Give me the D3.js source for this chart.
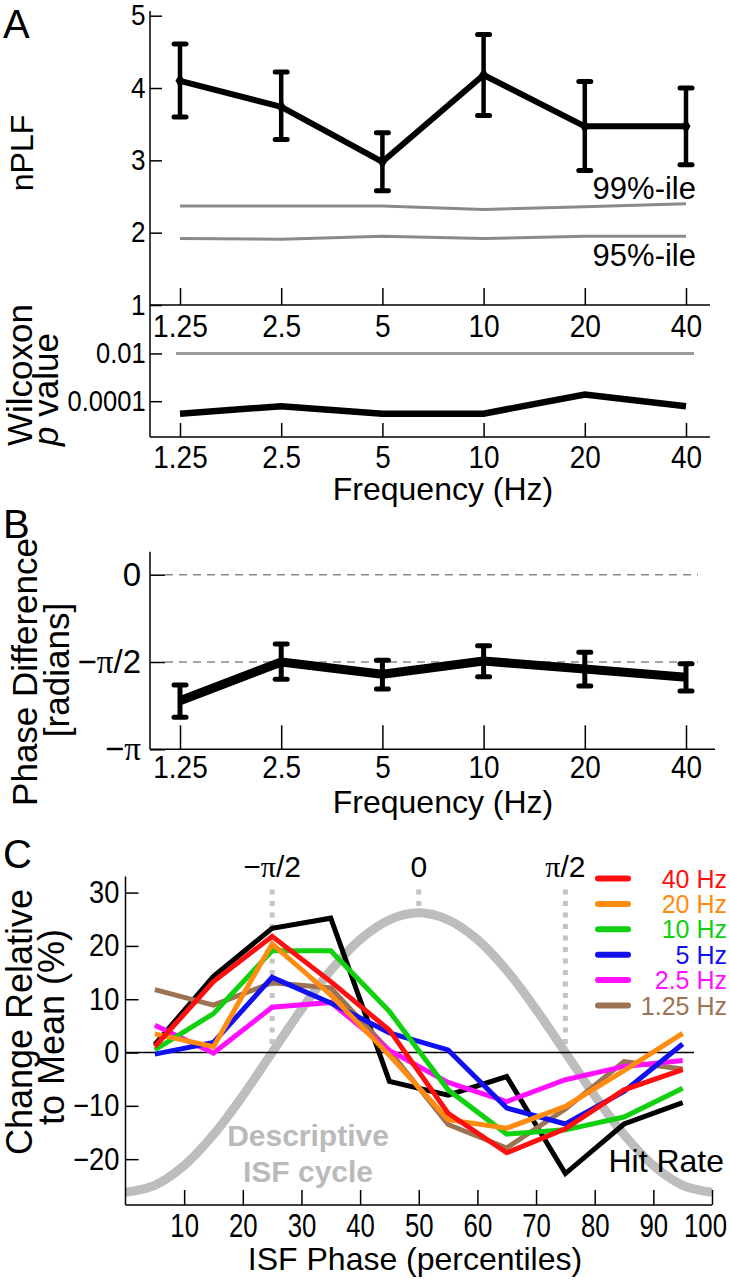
<!DOCTYPE html>
<html>
<head>
<meta charset="utf-8">
<script src="https://cdn.jsdelivr.net/npm/d3@7"></script>
<style>
    html, body { margin: 0; padding: 0; background: #ffffff; }
    svg text { font-family: "Liberation Sans", Arial, sans-serif; fill: #000; }
</style>
</head>
<body>
<div id="figure"></div>
<script>
// ---- data ----
const freqLabels = ['1.25', '2.5', '5', '10', '20', '40'];

// A: nPLF with error bars and shuffle percentiles
const nplfMean  = [4.10, 3.74, 2.98, 4.18, 3.47, 3.47];
const nplfUpper = [4.61, 4.22, 3.38, 4.74, 4.09, 4.00];
const nplfLower = [3.60, 3.29, 2.58, 3.62, 2.86, 2.94];
const pct99 = [2.37, 2.37, 2.37, 2.32, 2.36, 2.40];
const pct95 = [1.92, 1.91, 1.95, 1.92, 1.95, 1.95];
const nplfTicks = [1, 2, 3, 4, 5];

// A (lower): Wilcoxon p values
const pValues = [3.0e-5, 6.2e-5, 3.0e-5, 3.0e-5, 1.9e-4, 6.2e-5];
const pThreshold = 0.01;
const pTicks = [0.01, 0.0001];
const pTickLabels = ['0.01', '0.0001'];

// B: phase difference (radians)
const phaseMean  = [-2.267, -1.571, -1.792, -1.554, -1.696, -1.847];
const phaseUpper = [-1.984, -1.247, -1.541, -1.277, -1.396, -1.601];
const phaseLower = [-2.567, -1.882, -2.056, -1.835, -2.003, -2.092];
const phaseTicks = [0, -Math.PI / 2, -Math.PI];
const phaseTickLabels = ['0', '−π/2', '−π'];

// C: change relative to mean by ISF phase bin
const phaseBins = [5, 15, 25, 35, 45, 55, 65, 75, 85, 95];
const hitRate = [1.5, 14.3, 23.3, 25.2, -5.4, -8.0, -4.5, -22.7, -13.4, -9.4];
const hz40  = [1.1, 13.3, 21.8, 13.3, 4.2, -11.4, -18.8, -14.3, -7.0, -3.2];
const hz20  = [3.5, 1.1, 20.4, 10.8, -0.5, -12.6, -14.2, -10.1, -3.4, 3.6];
const hz10  = [0.5, 7.3, 19.1, 19.1, 7.7, -7.0, -15.3, -14.5, -12.1, -6.7];
const hz5   = [-0.3, 1.9, 14.1, 9.3, 3.7, 0.5, -10.4, -13.4, -7.3, 1.6];
const hz2p5 = [5.1, -0.1, 8.5, 9.4, 0.4, -5.6, -9.2, -5.1, -2.6, -1.5];
const hz1p25 = [11.8, 8.9, 13.1, 12.1, 0.3, -13.5, -17.9, -10.6, -1.7, -3.1];
const seriesNames  = ['40 Hz', '20 Hz', '10 Hz', '5 Hz', '2.5 Hz', '1.25 Hz'];
const seriesColors = ['#ff1010', '#ff8c10', '#10d010', '#1010f0', '#ff10ff', '#9c7353'];
const seriesValues = [hz40, hz20, hz10, hz5, hz2p5, hz1p25];

// descriptive ISF cycle (grey curve)
const cycleX = [0, 5, 10, 15, 20, 25, 30, 35, 40, 45, 50, 55, 60, 65, 70, 75, 80, 85, 90, 95, 100];
const cycleY = [-26.2, -24.9, -21.2, -15.4, -8.1, 0, 8.1, 15.4, 21.2, 24.9, 26.2,
                24.9, 21.2, 15.4, 8.1, 0, -8.1, -15.4, -21.2, -24.9, -26.2];
const cycleMarks = [25, 50, 75];
const cycleMarkLabels = ['−π/2', '0', 'π/2'];
const cTicksX = [10, 20, 30, 40, 50, 60, 70, 80, 90, 100];
const cTicksY = [-20, -10, 0, 10, 20, 30];

const FONT = '"Liberation Sans", Arial, sans-serif';

const svg = d3.select('#figure')
    .append('svg')
    .attr('width', 730)
    .attr('height', 1280);

// write labels with a serif pi, like the original
function piText(textSel, label) {
    textSel.text(null);
    label.split(/(π)/).filter(s => s.length).forEach(part => {
        textSel.append('tspan')
            .attr('font-family', part === 'π' ? '"Liberation Serif", "Times New Roman", serif' : null)
            .text(part);
    });
}

function styleAxis(g, size, squeeze) {
    g.attr('font-family', FONT).attr('font-size', size);
    g.select('.domain').remove();
    g.selectAll('.tick line').attr('stroke', '#000').attr('stroke-width', 1.5);
    g.selectAll('.tick text').attr('fill', '#000');
    // the original uses a narrower face for tick numbers
    if (squeeze) g.selectAll('.tick text').attr('transform', `scale(${squeeze},1)`);
}

function frameLine(x1, y1, x2, y2) {
    svg.append('line')
        .attr('x1', x1).attr('y1', y1)
        .attr('x2', x2).attr('y2', y2)
        .attr('stroke', '#000')
        .attr('stroke-width', 1.5);
}

function errorBars(xs, ys, upper, lower, capW, barW) {
    const g = svg.append('g');
    upper.forEach((u, i) => {
        const x = xs(freqLabels[i]);
        g.append('line')
            .attr('x1', x).attr('x2', x)
            .attr('y1', ys(u)).attr('y2', ys(lower[i]))
            .attr('stroke', '#000').attr('stroke-width', barW);
        [u, lower[i]].forEach(v => {
            g.append('line')
                .attr('x1', x - capW / 2).attr('x2', x + capW / 2)
                .attr('y1', ys(v)).attr('y2', ys(v))
                .attr('stroke', '#000').attr('stroke-width', 5)
                .attr('stroke-linecap', 'round');
        });
    });
}

function panelLetter(text, y) {
    svg.append('text').attr('x', 3).attr('y', y)
        .attr('font-size', 40).text(text);
}

// ================= Panel A =================
const xFreq = d3.scalePoint().domain(freqLabels).range([180, 686]);
const yA = d3.scaleLinear().domain([1, 5]).range([305, 15.7]);

panelLetter('A', 38);

frameLine(150, 11, 150, 437);
frameLine(150, 305, 710, 305);
frameLine(150, 437, 710, 437);

svg.append('g')
    .attr('transform', 'translate(150,0)')
    .call(d3.axisLeft(yA).tickValues(nplfTicks).tickFormat(d3.format('d'))
        .tickSizeInner(-12).tickSizeOuter(0).tickPadding(5))
    .call(g => styleAxis(g, 29, 0.9));

svg.append('g')
    .attr('transform', 'translate(0,305)')
    .call(d3.axisBottom(xFreq).tickSizeInner(-17).tickSizeOuter(0).tickPadding(9))
    .call(g => styleAxis(g, 32, 0.88));

const lineA = d3.line()
    .x((d, i) => xFreq(freqLabels[i]))
    .y(d => yA(d));

[pct99, pct95].forEach(arr => {
    svg.append('path')
        .datum(arr)
        .attr('d', lineA)
        .attr('fill', 'none')
        .attr('stroke', '#8a8a8a')
        .attr('stroke-width', 3);
});

svg.append('text').attr('x', 696).attr('y', 199)
    .attr('text-anchor', 'end').attr('font-size', 31).text('99%-ile');
svg.append('text').attr('x', 696).attr('y', 266)
    .attr('text-anchor', 'end').attr('font-size', 31).text('95%-ile');

errorBars(xFreq, yA, nplfUpper, nplfLower, 12, 4.5);

svg.append('path')
    .datum(nplfMean)
    .attr('d', lineA)
    .attr('fill', 'none')
    .attr('stroke', '#000')
    .attr('stroke-width', 6)
    .attr('stroke-linejoin', 'round');

svg.append('g')
    .selectAll('path')
    .data(nplfMean)
    .enter()
    .append('path')
    .attr('d', d3.symbol().type(d3.symbolDiamond).size(70))
    .attr('transform', (d, i) => `translate(${xFreq(freqLabels[i])},${yA(d)})`)
    .attr('fill', '#000');

svg.append('text')
    .attr('transform', 'translate(33,153) rotate(-90)')
    .attr('text-anchor', 'middle')
    .attr('font-size', 32)
    .text('nPLF');

// ---- p values ----
const yP = d3.scaleLog().domain([Math.pow(10, -5.5), 1.07]).range([437, 305]);

svg.append('g')
    .attr('transform', 'translate(150,0)')
    .call(d3.axisLeft(yP).tickValues(pTicks).tickFormat((d, i) => pTickLabels[i])
        .tickSizeInner(-12).tickSizeOuter(0).tickPadding(5))
    .call(g => styleAxis(g, 29, 0.88));

svg.append('g')
    .attr('transform', 'translate(0,437)')
    .call(d3.axisBottom(xFreq).tickSizeInner(-14).tickSizeOuter(0).tickPadding(9))
    .call(g => styleAxis(g, 31, 0.9));

svg.append('line')
    .attr('x1', xFreq(freqLabels[0]) - 4)
    .attr('x2', xFreq(freqLabels[freqLabels.length - 1]) + 8)
    .attr('y1', yP(pThreshold)).attr('y2', yP(pThreshold))
    .attr('stroke', '#999').attr('stroke-width', 3);

svg.append('path')
    .datum(pValues)
    .attr('d', d3.line().x((d, i) => xFreq(freqLabels[i])).y(d => yP(d)))
    .attr('fill', 'none')
    .attr('stroke', '#000')
    .attr('stroke-width', 6.5);

svg.append('text')
    .attr('transform', 'translate(32,446) rotate(-90)')
    .attr('font-size', 35)
    .text('Wilcoxon');
const pv = svg.append('text')
    .attr('transform', 'translate(58,446) rotate(-90)')
    .attr('font-size', 35);
pv.append('tspan').attr('font-style', 'italic').text('p');
pv.append('tspan').text(' value');

svg.append('text').attr('x', 443).attr('y', 500)
    .attr('text-anchor', 'middle').attr('font-size', 32)
    .text('Frequency (Hz)');

// ================= Panel B =================
const yB = d3.scaleLinear().domain([-Math.PI, 0.414]).range([749.3, 551.7]);

panelLetter('B', 538);

frameLine(150, 551.7, 150, 749.3);
frameLine(150, 749.3, 715, 749.3);

svg.append('g')
    .attr('transform', 'translate(150,0)')
    .call(d3.axisLeft(yB).tickValues(phaseTicks).tickFormat((d, i) => phaseTickLabels[i])
        .tickSizeInner(-15).tickSizeOuter(0).tickPadding(9))
    .call(g => styleAxis(g, 33))
    .call(g => g.selectAll('.tick text').each(function (d, i) {
        piText(d3.select(this), phaseTickLabels[i]);
    }));

svg.append('g')
    .attr('transform', 'translate(0,749.3)')
    .call(d3.axisBottom(xFreq).tickSizeInner(-24).tickSizeOuter(0).tickPadding(7))
    .call(g => styleAxis(g, 31, 0.9));

phaseTicks.slice(0, 2).forEach(v => {
    svg.append('line')
        .attr('x1', 165).attr('x2', 698)
        .attr('y1', yB(v)).attr('y2', yB(v))
        .attr('stroke', '#8a8a8a')
        .attr('stroke-width', 1.5)
        .attr('stroke-dasharray', '8,6');
});

errorBars(xFreq, yB, phaseUpper, phaseLower, 12, 5);

svg.append('path')
    .datum(phaseMean)
    .attr('d', d3.line().x((d, i) => xFreq(freqLabels[i])).y(d => yB(d)))
    .attr('fill', 'none')
    .attr('stroke', '#000')
    .attr('stroke-width', 9)
    .attr('stroke-linejoin', 'round');

svg.append('text')
    .attr('transform', 'translate(37,672) rotate(-90)')
    .attr('text-anchor', 'middle').attr('font-size', 35)
    .text('Phase Difference');
svg.append('text')
    .attr('transform', 'translate(69,670) rotate(-90)')
    .attr('text-anchor', 'middle').attr('font-size', 35)
    .text('[radians]');

svg.append('text').attr('x', 443).attr('y', 813)
    .attr('text-anchor', 'middle').attr('font-size', 32)
    .text('Frequency (Hz)');

// ================= Panel C =================
const xC = d3.scaleLinear().domain([0, 100]).range([125.5, 712]);
const yC = d3.scaleLinear().domain([-28.6, 33]).range([1205, 876.6]);

panelLetter('C', 868);

// dotted phase markers, stop at the grey cycle
cycleMarks.forEach((m, i) => {
    svg.append('line')
        .attr('x1', xC(m)).attr('x2', xC(m))
        .attr('y1', yC(30.6))
        .attr('y2', yC(cycleY[cycleX.indexOf(m)]))
        .attr('stroke', '#c4c4c4')
        .attr('stroke-width', 5)
        .attr('stroke-dasharray', '5,6.5');
    const t = svg.append('text')
        .attr('x', xC(m)).attr('y', 877)
        .attr('text-anchor', 'middle')
        .attr('font-size', 30);
    piText(t, cycleMarkLabels[i]);
});

svg.append('path')
    .datum(cycleX.map((x, i) => [x, cycleY[i]]))
    .attr('d', d3.line().x(d => xC(d[0])).y(d => yC(d[1])).curve(d3.curveCatmullRom))
    .attr('fill', 'none')
    .attr('stroke', '#bdbdbd')
    .attr('stroke-width', 9);

svg.append('text').attr('x', 308).attr('y', 1146)
    .attr('text-anchor', 'middle').attr('font-size', 30).attr('font-weight', 'bold')
    .style('fill', '#bababa').text('Descriptive');
svg.append('text').attr('x', 308).attr('y', 1182)
    .attr('text-anchor', 'middle').attr('font-size', 30).attr('font-weight', 'bold')
    .style('fill', '#bababa').text('ISF cycle');

frameLine(125.5, 876.6, 125.5, 1205);
frameLine(125.5, 1205, 712, 1205);

svg.append('line')
    .attr('x1', xC(0)).attr('x2', 694)
    .attr('y1', yC(0)).attr('y2', yC(0))
    .attr('stroke', '#000')
    .attr('stroke-width', 1.5);

svg.append('g')
    .attr('transform', 'translate(125.5,0)')
    .call(d3.axisLeft(yC).tickValues(cTicksY).tickSizeInner(-13).tickSizeOuter(0).tickPadding(7))
    .call(g => styleAxis(g, 31, 0.88));

svg.append('g')
    .attr('transform', 'translate(0,1205)')
    .call(d3.axisBottom(xC).tickValues(cTicksX).tickSizeInner(-15).tickSizeOuter(0).tickPadding(9))
    .call(g => styleAxis(g, 33, 0.78))
    .call(g => g.selectAll('.tick text').filter(d => d === 100).attr('dx', -9));

const lineC = d3.line()
    .x((d, i) => xC(phaseBins[i]))
    .y(d => yC(d));

svg.append('path')
    .datum(hitRate)
    .attr('d', lineC)
    .attr('fill', 'none')
    .attr('stroke', '#000')
    .attr('stroke-width', 5);

// drawn from 1.25 Hz up so 40 Hz ends on top
seriesValues.slice().reverse().forEach((vals, j) => {
    const i = seriesValues.length - 1 - j;
    svg.append('path')
        .datum(vals)
        .attr('d', lineC)
        .attr('fill', 'none')
        .attr('stroke', seriesColors[i])
        .attr('stroke-width', 5);
});

// legend
seriesNames.forEach((name, i) => {
    const y = 878.5 + i * 25.4;
    svg.append('line')
        .attr('x1', 598).attr('x2', 628)
        .attr('y1', y).attr('y2', y)
        .attr('stroke', seriesColors[i])
        .attr('stroke-width', 6)
        .attr('stroke-linecap', 'round');
    svg.append('text')
        .attr('x', 727).attr('y', y + 9)
        .attr('text-anchor', 'end')
        .attr('font-size', 25)
        .style('fill', seriesColors[i])
        .text(name);
});

svg.append('text').attr('x', 724).attr('y', 1172)
    .attr('text-anchor', 'end').attr('font-size', 32)
    .text('Hit Rate');

svg.append('text')
    .attr('transform', 'translate(32,1022) rotate(-90)')
    .attr('text-anchor', 'middle').attr('font-size', 36)
    .text('Change Relative');
svg.append('text')
    .attr('transform', 'translate(64,1027) rotate(-90)')
    .attr('text-anchor', 'middle').attr('font-size', 36)
    .text('to Mean (%)');

svg.append('text').attr('x', 415).attr('y', 1270)
    .attr('text-anchor', 'middle').attr('font-size', 32)
    .text('ISF Phase (percentiles)');
</script>
</body>
</html>
